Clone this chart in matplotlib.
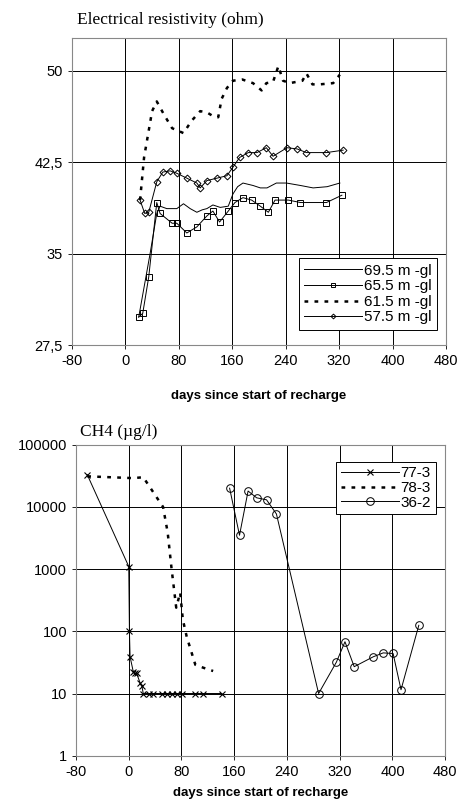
import matplotlib
matplotlib.use('Agg')
import matplotlib.pyplot as plt
from matplotlib.ticker import FixedLocator, FixedFormatter

plt.rcParams['axes.unicode_minus'] = False

# --- resistivity data (days, ohm) ---
d69 = [20, 37, 47, 52, 62, 77, 87, 97, 107, 115, 122, 131, 142, 154, 161, 168, 176, 191, 202, 212, 226, 241, 262, 281, 302, 321]
r69 = [29.8, 35.0, 38.3, 38.9, 38.7, 38.7, 39.1, 38.7, 38.4, 38.6, 38.7, 39.0, 38.8, 38.9, 39.9, 40.5, 40.8, 40.6, 40.4, 40.4, 40.8, 40.8, 40.6, 40.4, 40.5, 40.8]

d65 = [20, 26, 35, 47, 52, 70, 77, 92, 107, 122, 131, 141, 154, 164, 176, 189, 202, 214, 224, 244, 262, 301, 324]
r65 = [29.8, 30.1, 33.1, 39.2, 38.3, 37.5, 37.5, 36.7, 37.2, 38.1, 38.5, 37.6, 38.5, 39.2, 39.6, 39.4, 38.9, 38.4, 39.4, 39.4, 39.2, 39.2, 39.8]

d61 = [22, 28, 34, 40, 47, 58, 70, 87, 99, 112, 122, 131, 139, 144, 152, 161, 175, 191, 204, 211, 221, 229, 236, 246, 265, 271, 280, 291, 311, 321]
r61 = [39.4, 42.9, 44.8, 46.7, 47.5, 46.4, 45.3, 44.9, 45.9, 46.7, 46.6, 46.3, 46.2, 47.7, 48.6, 49.2, 49.3, 49.0, 48.4, 49.0, 49.1, 50.4, 49.2, 49.0, 49.2, 49.8, 48.9, 48.9, 49.0, 49.7]

d57 = [22, 29, 35, 47, 56, 67, 77, 92, 107, 112, 122, 137, 152, 161, 171, 184, 197, 211, 221, 242, 257, 271, 301, 326]
r57 = [39.4, 38.3, 38.4, 40.9, 41.7, 41.8, 41.6, 41.2, 40.8, 40.4, 41.0, 41.2, 41.4, 42.1, 42.9, 43.3, 43.3, 43.7, 43.0, 43.7, 43.6, 43.3, 43.3, 43.5]

# --- CH4 data (days, ug/l) ---
d77 = [-63, 0, 1, 2, 7, 9, 12, 17, 20, 22, 30, 37, 50, 58, 66, 73, 81, 101, 113, 141]
c77 = [33000, 1100, 100, 39, 22, 21, 21, 15, 13, 10, 10, 10, 10, 10, 10, 10, 10, 10, 10, 10]

d78 = [-63, 7, 22, 52, 59, 65, 72, 78, 82, 88, 101, 113, 128]
c78 = [31000, 29000, 30000, 10000, 3900, 1000, 240, 420, 155, 81, 29, 26, 23]

d36 = [153, 168, 181, 194, 209, 224, 288, 315, 328, 342, 371, 386, 401, 413, 440]
c36 = [20000, 3500, 18000, 14000, 13000, 7700, 10, 32, 68, 27, 39, 45, 44, 11.5, 125]

xticks = [-80, 0, 80, 160, 240, 320, 400, 480]
top_yticks = [27.5, 35, 42.5, 50]
top_ylabels = ['27,5', '35', '42,5', '50']
bot_yticks = [1, 10, 100, 1000, 10000, 100000]
bot_ylabels = ['1', '10', '100', '1000', '10000', '100000']

sans = 'Liberation Sans'
serif = 'Liberation Serif'

fig = plt.figure(figsize=(4.58, 8.10), dpi=100)

def style(ax):
    ax.grid(True, color='black', linewidth=0.7)
    ax.set_axisbelow(True)
    for s in ax.spines.values():
        s.set_color('#888888')
        s.set_linewidth(0.8)
    ax.tick_params(direction='out', length=3, width=0.6, colors='black', labelsize=10.5)
    ax.set_xticks(xticks)
    ax.set_xlim(-80, 480)
    for lab in ax.get_xticklabels() + ax.get_yticklabels():
        lab.set_fontfamily(sans)

# top panel
ax1 = fig.add_axes([0.157, 0.574, 0.817, 0.379])
ax1.plot(d69, r69, color='black', lw=0.7, label='69.5 m -gl')
ax1.plot(d65, r65, color='black', lw=0.7, marker='s', ms=5, mfc='none', mew=0.7, label='65.5 m -gl')
ax1.plot(d61, r61, color='black', lw=1.8, ls=(0, (1.5, 2.5)), label='61.5 m -gl')
ax1.plot(d57, r57, color='black', lw=0.7, marker='D', ms=3.5, mfc='none', mew=0.7, label='57.5 m -gl')
ax1.set_ylim(27.5, 52.7)
ax1.yaxis.set_major_locator(FixedLocator(top_yticks))
ax1.yaxis.set_major_formatter(FixedFormatter(top_ylabels))
style(ax1)
ax1.set_xlabel('days since start of recharge', fontfamily=sans, fontweight='bold', fontsize=9.5, labelpad=16)
fig.text(0.168, 0.975, 'Electrical resistivity (ohm)', fontfamily=serif, fontsize=12.5, va='center')
leg1 = ax1.legend(loc='lower right', bbox_to_anchor=(0.995, 0.025), prop={'family': sans, 'size': 11},
                  handlelength=3.8, handletextpad=0.1, labelspacing=0.1, borderpad=0.35,
                  markerscale=0.7, frameon=True, fancybox=False, edgecolor='black', framealpha=1)
leg1.get_frame().set_linewidth(0.7)

# bottom panel
ax2 = fig.add_axes([0.166, 0.067, 0.806, 0.384])
ax2.set_yscale('log')
ax2.plot(d77, c77, color='black', lw=0.7, marker='x', ms=5, mew=0.8, label='77-3')
ax2.plot(d78, c78, color='black', lw=1.8, ls=(0, (1.5, 2.5)), label='78-3')
ax2.plot(d36, c36, color='black', lw=0.7, marker='o', ms=5.5, mfc='none', mew=0.7, label='36-2')
ax2.set_ylim(1, 100000)
ax2.yaxis.set_major_locator(FixedLocator(bot_yticks))
ax2.yaxis.set_major_formatter(FixedFormatter(bot_ylabels))
ax2.yaxis.set_minor_locator(FixedLocator([]))
style(ax2)
ax2.set_xlabel('days since start of recharge', fontfamily=sans, fontweight='bold', fontsize=9.5, labelpad=6)
fig.text(0.175, 0.467, 'CH4 (\u00b5g/l)', fontfamily=serif, fontsize=12.5, va='center')
leg2 = ax2.legend(loc='upper right', bbox_to_anchor=(0.995, 0.97), prop={'family': sans, 'size': 11},
                  handlelength=3.8, handletextpad=0.1, labelspacing=0.05, borderpad=0.3,
                  frameon=True, fancybox=False, edgecolor='black', framealpha=1)
leg2.get_frame().set_linewidth(0.7)

fig.savefig('out.png', dpi=100)
